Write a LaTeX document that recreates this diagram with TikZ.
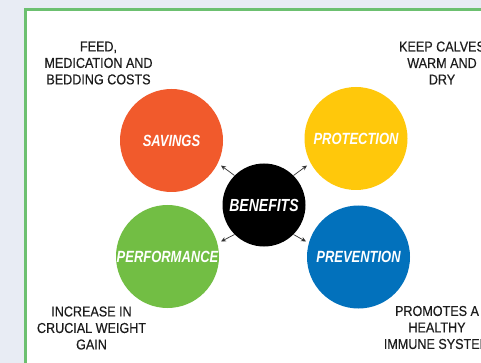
\documentclass[tikz,border=0pt]{standalone}
\usepackage{fontspec}
\usetikzlibrary{arrows.meta}
\newfontfamily\lblfont{Liberation Sans}[FakeStretch=0.88,FakeBold=0.35]
\newfontfamily\cirfont{Liberation Sans}[FakeStretch=0.8]
\definecolor{bgcol}{HTML}{E8ECF4}
\definecolor{framecol}{HTML}{6CC070}
\definecolor{savcol}{HTML}{F15A2C}
\definecolor{procol}{HTML}{FFC80B}
\definecolor{percol}{HTML}{72BE44}
\definecolor{prvcol}{HTML}{0271BC}
\definecolor{txtcol}{HTML}{1C1C1C}
\definecolor{arrcol}{HTML}{333333}
\begin{document}
\begin{tikzpicture}[x=1pt,y=-1pt,
  bubble/.style={circle,inner sep=0pt,minimum size=103pt,text=white,
    font=\cirfont\bfseries\itshape\fontsize{16.2}{18}\selectfont},
  hub/.style={circle,fill=black,inner sep=0pt,minimum size=83pt,text=white,
    font=\cirfont\bfseries\itshape\fontsize{17.5}{19}\selectfont},
  note/.style={align=center,text=txtcol,inner sep=0pt,
    font=\lblfont\fontsize{14.3}{16.5}\selectfont},
  spoke/.style={draw=arrcol,line width=0.7pt,-{Stealth[length=5pt,width=4.5pt]}}]
\useasboundingbox (0,0) rectangle (481,363);
\clip (0,0) rectangle (481,363);
\fill[bgcol] (0,0) rectangle (481,363);
\draw[framecol,fill=white,line width=2.5pt] (25.5,9.7) rectangle (520,420);
% circles
\node[bubble,fill=savcol] (sav) at (171.5,140.5) {SAVINGS};
\node[bubble,fill=procol] (pro) at (356,138.5) {PROTECTION};
\node[bubble,fill=percol] (per) at (167.5,256.5) {PERFORMANCE};
\node[bubble,fill=prvcol] (prv) at (358.5,257) {PREVENTION};
\node[hub] (ben) at (264,205) {BENEFITS};
% arrow tips
\coordinate (tul) at (221,165.5);
\coordinate (tur) at (307,165.5);
\coordinate (tll) at (221,241.5);
\coordinate (tlr) at (306,241.5);
\draw[spoke] (ben.135) -- (tul);
\draw[spoke] (ben.45) -- (tur);
\draw[spoke] (ben.225) -- (tll);
\draw[spoke] (ben.-45) -- (tlr);
% labels
\node[note] (nsav) at (98.5,63) {FEED,\\MEDICATION AND\\BEDDING COSTS};
\node[note] (npro) at (442,63) {KEEP CALVES\\WARM AND\\DRY};
\node[note] (nper) at (91.5,328) {INCREASE IN\\CRUCIAL WEIGHT\\GAIN};
\node[note] (nprv) at (437,327.5) {PROMOTES A\\HEALTHY\\IMMUNE SYSTEM};
\end{tikzpicture}
\end{document}
